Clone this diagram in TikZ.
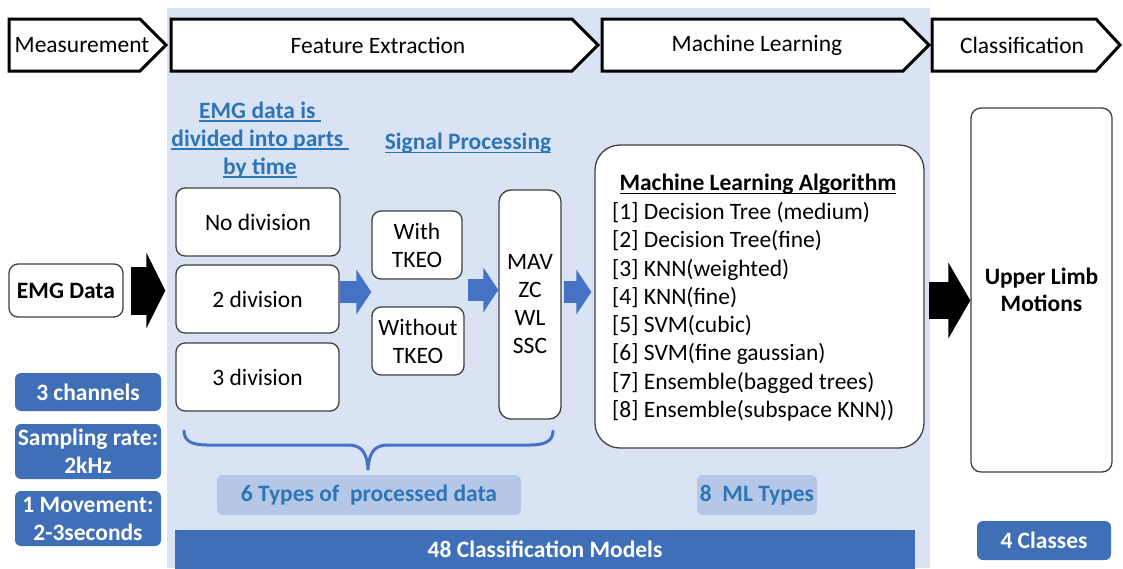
\documentclass[tikz,border=0pt]{standalone}
\usepackage{fontspec}
\setmainfont{Carlito}
\usetikzlibrary{arrows.meta,calc}

\definecolor{panelbg}{HTML}{DAE3F3}
\definecolor{tagblue}{HTML}{3F6FB7}
\definecolor{tagpale}{HTML}{B4C7E7}
\definecolor{inkblue}{HTML}{2E75B6}
\definecolor{flowblue}{HTML}{4472C4}
\definecolor{edgegray}{HTML}{404040}

% underline a piece of text with a rule of fixed thickness
\newcommand{\ulbox}[1]{\leavevmode\setbox0=\hbox{#1}\rlap{\rule[-3.6pt]{\wd0}{1.4pt}}\box0}

\begin{document}
\begin{tikzpicture}[x=1pt,y=-1pt,
  txtbase/.style={inner sep=0pt, font=\fontsize{23.5}{28}\selectfont, align=center},
  stagebox/.style={draw=black, line width=3pt, fill=white, line join=miter},
  rbox/.style={txtbase, draw=edgegray, line width=1.3pt, fill=white, rounded corners=9pt},
  tagdark/.style={txtbase, fill=tagblue, text=white, rounded corners=6pt, font=\fontsize{23.5}{28}\selectfont\bfseries},
  tagsoft/.style={txtbase, fill=tagpale, text=inkblue, rounded corners=6pt, font=\fontsize{23.5}{28}\selectfont\bfseries},
  headline/.style={txtbase, text=inkblue, font=\fontsize{23.5}{28}\selectfont\bfseries},
  bluearrow/.style={draw=flowblue, line width=22pt, -{Triangle[length=15pt,width=44pt]}},
  blackarrowA/.style={draw=black, line width=48pt, -{Triangle[length=19pt,width=75pt]}},
  blackarrowB/.style={draw=black, line width=37pt, -{Triangle[length=22pt,width=75pt]}},
]
\useasboundingbox (0,0) rectangle (1123,568);
\fill[white] (0,0) rectangle (1123,568);

% shaded panel behind feature extraction and machine learning
\fill[panelbg] (167,8) rectangle (930,568);

% stage banners
\draw[stagebox] (9,19) -- (140,19) -- (166,45) -- (140,71) -- (9,71) -- cycle;
\draw[stagebox] (171,19) -- (572,19) -- (598,45) -- (572,71) -- (171,71) -- cycle;
\draw[stagebox] (602,19) -- (903,19) -- (929,45) -- (903,71) -- (602,71) -- cycle;
\draw[stagebox] (932,19) -- (1096,19) -- (1120,45) -- (1096,71) -- (932,71) -- cycle;
\node[txtbase] (measure) at (82,45) {Measurement};
\node[txtbase] (featx) at (378,45) {Feature Extraction};
\node[txtbase] (mlearn) at (757,45) {Machine Learning};
\node[txtbase] (classif) at (1022,45) {Classification};

% input and its properties
\node[rbox, minimum width=114pt, minimum height=53pt, font=\fontsize{23.5}{28}\selectfont\bfseries] (emg) at (66,290.5) {EMG Data};
\node[tagdark, minimum width=146pt, minimum height=38pt] (chan) at (88,392) {3 channels};
\node[tagdark, minimum width=146pt, minimum height=55pt] (rate) at (88,451.5) {Sampling rate:\\2kHz};
\node[tagdark, minimum width=146pt, minimum height=55pt] (move) at (88,518.5) {1 Movement:\\2-3seconds};

% column headings
\node[headline] (hdiv) at (260,140.4) {\strut\ulbox{EMG data is\ }\\\strut\ulbox{divided into parts\ }\\\strut\ulbox{by time}};
\node[headline, anchor=base] (hsig) at (468,149.5) {\ulbox{Signal Processing}};

% time division options
\node[rbox, minimum width=164pt, minimum height=68pt] (div1) at (258,222) {No division};
\node[rbox, minimum width=163pt, minimum height=68pt] (div2) at (257.5,299) {2 division};
\node[rbox, minimum width=163pt, minimum height=68pt] (div3) at (257.5,377) {3 division};

% TKEO options
\node[rbox, minimum width=90pt, minimum height=68pt] (withtk) at (417,245) {With\\TKEO};
\node[rbox, minimum width=92pt, minimum height=68pt] (wotk) at (418,341) {Without\\TKEO};

% features
\node[rbox, rounded corners=12pt, minimum width=62pt, minimum height=229pt] (feat) at (530,304.5) {MAV\\ZC\\WL\\SSC};

% algorithm list
\node[rbox, rounded corners=25pt, minimum width=329pt, minimum height=303pt] (mlbox) at (759.5,296.5) {};
\node[txtbase, font=\fontsize{23.5}{28}\selectfont\bfseries, anchor=base] (mltitle) at (758,190.5) {\ulbox{Machine Learning Algorithm}};
\node[txtbase, align=left, anchor=north west, font=\fontsize{23.5}{28.3}\selectfont] (mllist) at (612,199.4)
  {\strut[1] Decision Tree (medium)\\
   \strut[2] Decision Tree(fine)\\
   \strut[3] KNN(weighted)\\
   \strut[4] KNN(fine)\\
   \strut[5] SVM(cubic)\\
   \strut[6] SVM(fine gaussian)\\
   \strut[7] Ensemble(bagged trees)\\
   \strut[8] Ensemble(subspace KNN))};

% output
\node[rbox, rounded corners=10pt, minimum width=141pt, minimum height=364pt, font=\fontsize{23.5}{27}\selectfont\bfseries] (limb) at (1041.5,290) {Upper Limb\\Motions};
\node[tagdark, minimum width=134pt, minimum height=39pt] (classes) at (1044,540.5) {4 Classes};

% block arrows
\draw[blackarrowA] ([xshift=7pt]emg.east) -- ([xshift=-10pt]emg.east -| div2.west);
\draw[bluearrow] ([yshift=7pt]div2.east) -- ([yshift=7pt]div2.east -| withtk.west);
\coordinate (tkmid) at ($(withtk.east)!0.5!(wotk.east)$);
\draw[bluearrow] ([xshift=4pt,yshift=3pt]tkmid) -- ([yshift=3pt]tkmid -| feat.west);
\draw[bluearrow] ([xshift=2pt,yshift=12.5pt]feat.east) -- ([xshift=-3pt,yshift=12.5pt]feat.east -| mlbox.west);
\draw[blackarrowB] ([xshift=4pt,yshift=-4pt]mlbox.east) -- ([yshift=-4pt]mlbox.east -| limb.west);

% brace gathering the processed data variants
\draw[flowblue, line width=3pt, line cap=round]
  (184,431) .. controls (184,441) and (192,445) .. (207,445) -- (347,445)
  .. controls (360,445) and (367,450) .. (368,470)
  .. controls (369,450) and (376,445) .. (389,445) -- (530,445)
  .. controls (545,445) and (553,441) .. (553,431);

% summary labels
\node[tagsoft, minimum width=304pt, minimum height=40pt] (ntypes) at (369,495) {6 Types of\ \ processed data};
\node[tagsoft, minimum width=120pt, minimum height=40pt] (nml) at (757,495) {8\ \ ML Types};
\fill[tagblue] (175,530) rectangle (915,570);
\node[txtbase, text=white, font=\fontsize{23.5}{28}\selectfont\bfseries] (nmodels) at (545,549) {48 Classification Models};
\end{tikzpicture}
\end{document}
